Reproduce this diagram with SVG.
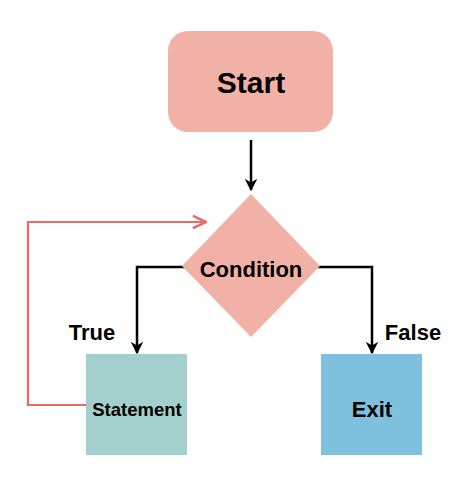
<svg xmlns="http://www.w3.org/2000/svg" width="474" height="479" viewBox="0 0 474 479">
<style>
text{font-family:"Liberation Sans",Arial,sans-serif;font-weight:bold;fill:#000;text-anchor:middle}
.edge{fill:none;stroke:#000;stroke-width:2.5}
.loop{fill:none;stroke:#EA6B66;stroke-width:2.2}
</style>
<defs>
<marker id="ah" viewBox="0 0 10 10" refX="9" refY="5" markerWidth="5" markerHeight="5" orient="auto" markerUnits="strokeWidth">
<path d="M0,0 L10,5 L0,10 L3,5 Z" fill="#000"/>
</marker>
<marker id="oh" viewBox="0 0 10 10" refX="9.5" refY="5" markerWidth="7" markerHeight="7" orient="auto" markerUnits="strokeWidth">
<path d="M1,1 L9.5,5 L1,9" fill="none" stroke="#EA6B66" stroke-width="1.6"/>
</marker>
</defs>
<rect width="474" height="479" fill="#fff"/>
<g id="connectors">
<path class="edge" d="M251,140 V190" marker-end="url(#ah)"/>
<path class="edge" d="M187,267 H137 V353" marker-end="url(#ah)"/>
<path class="edge" d="M316,267 H372 V353" marker-end="url(#ah)"/>
<path class="loop" d="M86,405 H28 V222 H206" marker-end="url(#oh)"/>
</g>
<g id="start">
<rect x="168" y="31" width="165" height="101" rx="20" fill="#F2B1A7"/>
<text x="251" y="93" font-size="30">Start</text>
</g>
<g id="condition">
<polygon points="251,194 320,266 251,337 182,266" fill="#F2B1A7"/>
<text x="251" y="277" font-size="22">Condition</text>
</g>
<g id="statement">
<rect x="86" y="354" width="101" height="101" fill="#A3D0CD"/>
<text x="137" y="416" font-size="18.5">Statement</text>
</g>
<g id="exit">
<rect x="321" y="354" width="101" height="101" fill="#80C0DF"/>
<text x="372" y="417" font-size="22">Exit</text>
</g>
<g id="labels">
<text x="92" y="340" font-size="22">True</text>
<text x="413" y="340" font-size="22">False</text>
</g>
</svg>
